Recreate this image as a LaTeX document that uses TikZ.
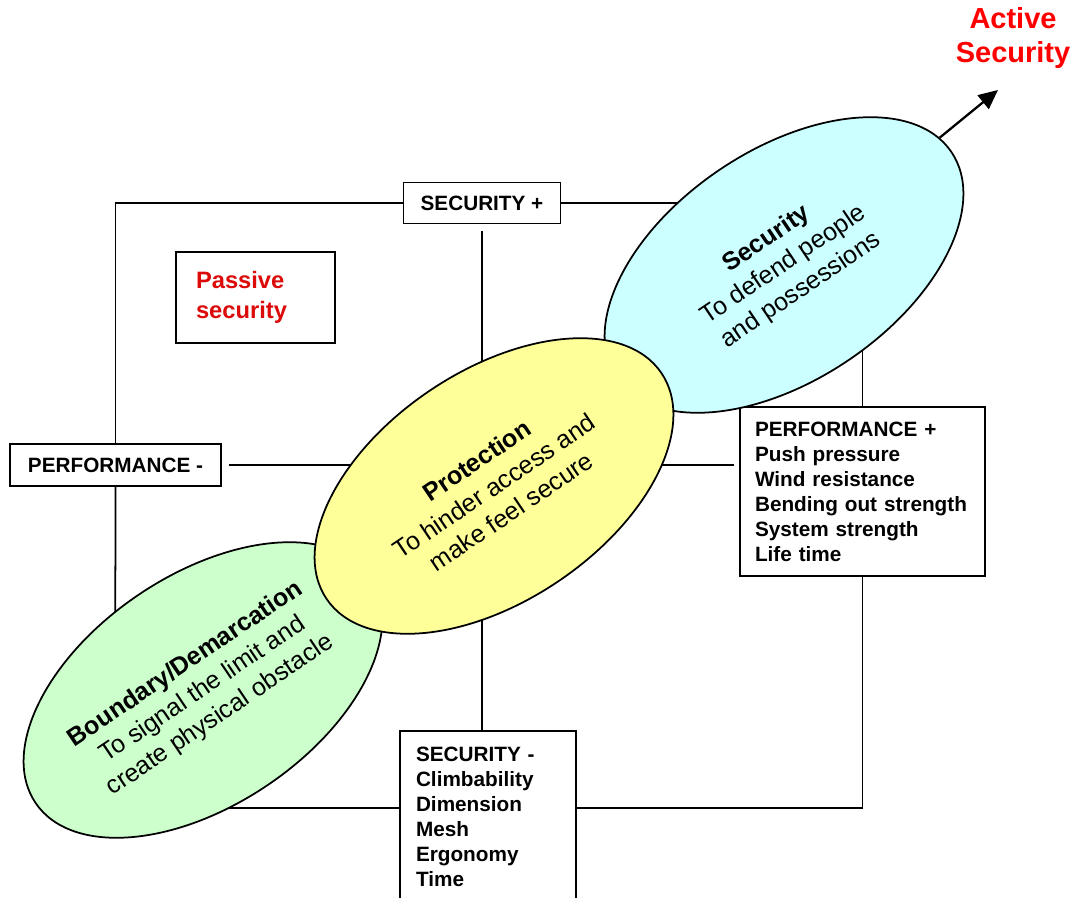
\documentclass[tikz,border=0pt]{standalone}
\usepackage{fontspec}
\setmainfont{Liberation Sans}
\usetikzlibrary{shapes.geometric, arrows.meta}
\definecolor{skyfill}{HTML}{CCFFFF}
\definecolor{lemonfill}{HTML}{FFFF99}
\definecolor{mintfill}{HTML}{CCFFCC}
\definecolor{activered}{HTML}{FF0000}
\definecolor{passivered}{HTML}{DD0A0A}
\tikzstyle{axisbox} = [rectangle, draw=black, line width=1pt, fill=white, inner sep=0pt, font=\fontsize{11.8}{14.2}\selectfont\bfseries]
\tikzstyle{listbox} = [rectangle, draw=black, line width=1pt, fill=white, inner ysep=0pt, align=left, font=\fontsize{11.8}{14.2}\selectfont\bfseries]
\tikzstyle{blob} = [ellipse, draw=black, line width=1pt, rotate=34, minimum width=8.08cm, minimum height=4.6cm, inner sep=0pt, align=center, font=\fontsize{14.3}{17.5}\selectfont]
\tikzstyle{frameline} = [line width=1pt]
\tikzstyle{arrow} = [line width=1.3pt, -{Triangle[length=11pt,width=10pt]}]

\begin{document}
\begin{tikzpicture}[x=0.02cm, y=-0.02cm]
	\useasboundingbox (0,0) rectangle (1078,898);

	\node (secplus) [axisbox, minimum width=3.14cm, minimum height=0.82cm] at (482,203) {SECURITY +};
	\node (perfminus) [axisbox, minimum width=4.22cm, minimum height=0.84cm] at (115.5,465) {PERFORMANCE -};
	\node (perfplus) [listbox, text width=4.3cm, inner xsep=0.3cm, minimum height=3.38cm] at (862.5,491.5) {PERFORMANCE +\\Push pressure\\Wind resistance\\Bending out strength\\System strength\\Life time};
	\node (secminus) [listbox, text width=2.88cm, inner xsep=0.32cm, minimum height=3.44cm] at (488,817) {SECURITY -\\Climbability\\Dimension\\Mesh\\Ergonomy\\Time};
	\node (passive) [listbox, text=passivered, text width=2.38cm, inner xsep=0.4cm, minimum height=1.82cm, font=\fontsize{13.5}{17}\selectfont\bfseries] at (255.5,297.5) {Passive\\security};
	\node (active) [text=activered, align=center, font=\fontsize{16.5}{19.8}\selectfont\bfseries] at (1013,38) {Active\\Security};

	\coordinate (frameBL) at (115,808);
	\coordinate (activetip) at (998,90);

	% square frame and cross
	\draw [frameline] (secplus.west) -| (perfminus.north);
	\draw [frameline] (perfminus.south) -- (frameBL) -- (frameBL -| secminus.west);
	\draw [frameline] (secminus.east |- frameBL) -| (perfplus.south);
	\draw [frameline] (secplus.east) -| (perfplus.north);
	\draw [frameline, shorten <=0.14cm] (secplus.south) -- (secplus.south |- secminus.north);
	\draw [frameline, shorten <=0.14cm, shorten >=0.1cm] (perfminus.east) -- (perfminus.east -| perfplus.west);

	% the three levels
	\node (boundary) [blob, fill=mintfill] at (203,690) {\textbf{Boundary/Demarcation}\\To signal the limit and\\create physical obstacle};
	\node (security) [blob, fill=skyfill] at (784,265) {\textbf{Security}\\To defend people\\and possessions};
	\node (protection) [blob, fill=lemonfill] at (494,486) {\textbf{Protection}\\To hinder access and\\make feel secure};

	\draw [arrow] (security) -- (activetip);

\end{tikzpicture}
\end{document}
